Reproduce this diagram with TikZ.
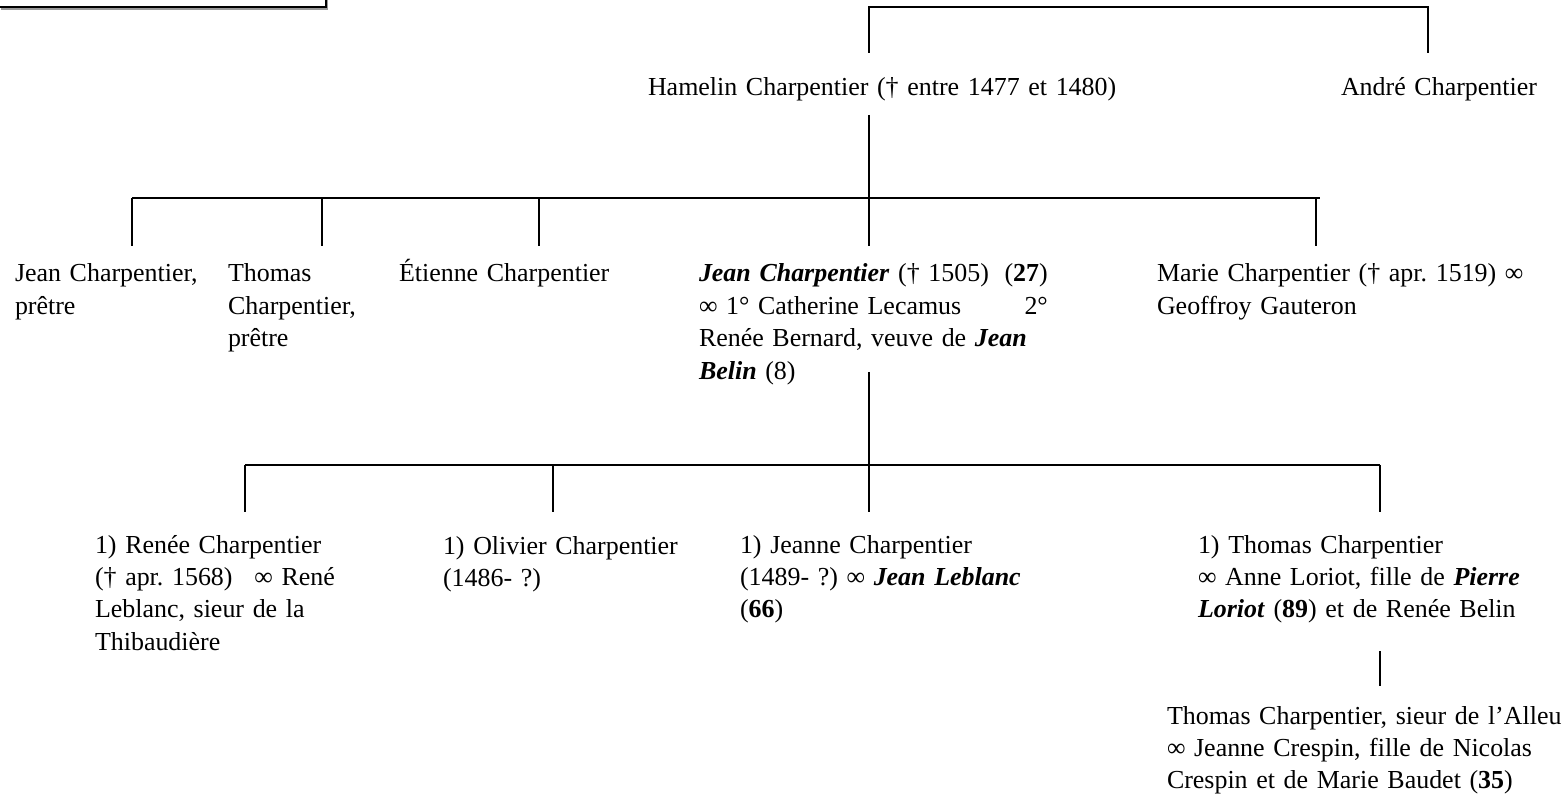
\documentclass[tikz,border=0pt]{standalone}
\usepackage{fontspec}
\setmainfont{Liberation Serif}
\newcommand\bi[1]{\textbf{\textit{#1}}}
\tikzset{
  tx/.style={anchor=base west, inner sep=0pt, outer sep=0pt, text width=300pt, align=left, font=\fontsize{11.9}{14.85}\selectfont\frenchspacing},
  ln/.style={line width=0.7pt, black},
}
\begin{document}
\begin{tikzpicture}[x=0.4587pt, y=-0.4587pt]
\useasboundingbox (0,0) rectangle (1568,801);
% fragment of a box at top left
\coordinate (tlA) at (0,7); \coordinate (tlB) at (326,7); \coordinate (tlC) at (326,-2);
\draw[line width=0.8pt, black!40] ([shift={(1.5,2)}]tlA) -- ([shift={(1.5,2)}]tlB) -- ([shift={(1.5,2)}]tlC);
\draw[line width=0.9pt] (tlA) -- (tlB) -- (tlC);

% generation 1
\node[tx] (hamelin) at (648,96) {Hamelin Charpentier († entre 1477 et 1480)};
\node[tx] (andre) at (1341,96) {André Charpentier};

% generation 2
\node[tx] (jeanp) at (15,282) {Jean Charpentier,\\prêtre};
\node[tx] (thomasp) at (228,282) {Thomas\\Charpentier,\\prêtre};
\node[tx] (etienne) at (399,282) {Étienne Charpentier};
\node[tx] (jean) at (699,282) {\makebox[160pt][s]{\bi{Jean Charpentier} († 1505)\hfill(\textbf{27})}\\\makebox[160pt][s]{∞ 1° Catherine Lecamus\hfill 2°}\\\makebox[160pt][s]{Renée Bernard, veuve de \bi{Jean}}\\\bi{Belin} (8)};
\node[tx] (marie) at (1157,282) {Marie Charpentier († apr. 1519) ∞\\Geoffroy Gauteron};

% generation 3
\node[tx] (renee) at (95,553) {1) Renée Charpentier\\\makebox[110pt][s]{(† apr. 1568)\hfill∞ René}\\Leblanc, sieur de la\\Thibaudière};
\node[tx] (olivier) at (443,554) {1) Olivier Charpentier\\(1486- ?)};
\node[tx] (jeanne) at (740,553) {1) Jeanne Charpentier\\(1489- ?) ∞ \bi{Jean Leblanc}\\(\textbf{66})};
\node[tx] (thomas) at (1198,553) {1) Thomas Charpentier\\∞ Anne Loriot, fille de \bi{Pierre}\\\bi{Loriot} (\textbf{89}) et de Renée Belin};

% generation 4
\node[tx] (thomas2) at (1167,724) {Thomas Charpentier, sieur de l’Alleu\\∞ Jeanne Crespin, fille de Nicolas\\Crespin et de Marie Baudet (\textbf{35})};

% connectors
\coordinate (t1) at (869,53); \coordinate (t2) at (869,7); \coordinate (t3) at (1428,7); \coordinate (t4) at (1428,53);
\draw[ln] (t1) -- (t2) -- (t3) -- (t4);

\coordinate (h1) at (869,115); \coordinate (h2) at (869,198);
\draw[ln] (h1) -- (h2);
\coordinate (b1l) at (132,198); \coordinate (b1r) at (1320,198);
\draw[ln] (b1l) -- (b1r);
\foreach \x/\n in {132/a,322/b,539/c,869/d,1316/e}{
  \coordinate (d1\n) at (\x,198); \coordinate (e1\n) at (\x,246);
  \draw[ln] (d1\n) -- (e1\n);
}

\coordinate (j1) at (869,372); \coordinate (j2) at (869,465);
\draw[ln] (j1) -- (j2);
\coordinate (b2l) at (245,465); \coordinate (b2r) at (1380,465);
\draw[ln] (b2l) -- (b2r);
\foreach \x/\n in {245/a,553/b,869/c,1380/d}{
  \coordinate (d2\n) at (\x,465); \coordinate (e2\n) at (\x,512);
  \draw[ln] (d2\n) -- (e2\n);
}

\coordinate (k1) at (1380,651); \coordinate (k2) at (1380,686);
\draw[ln] (k1) -- (k2);
\end{tikzpicture}
\end{document}
